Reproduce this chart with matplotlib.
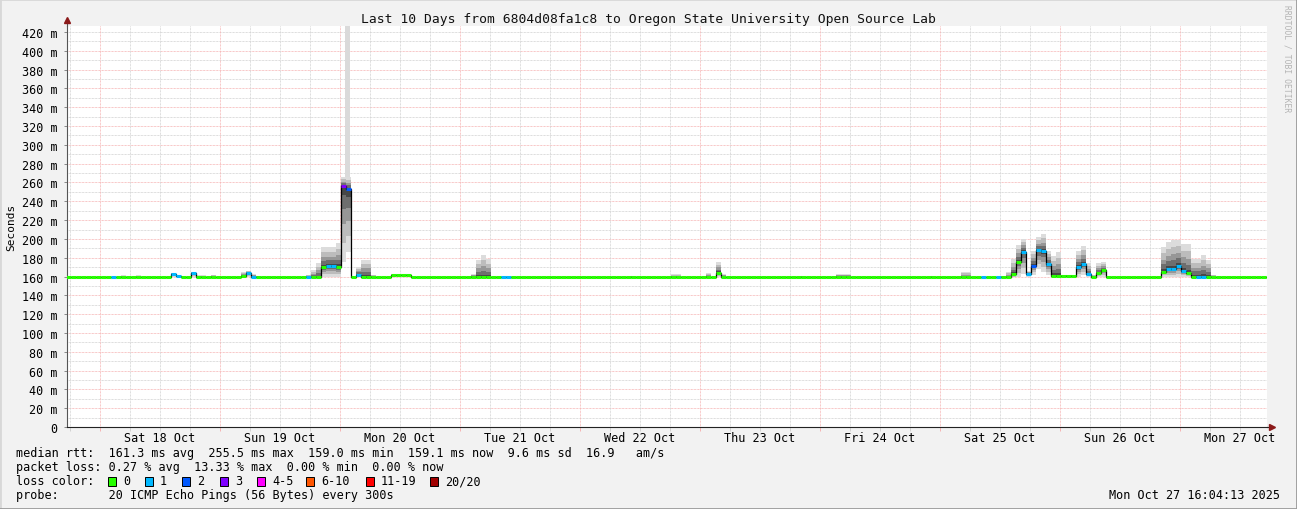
import numpy as np
import matplotlib
matplotlib.use("Agg")
import matplotlib.pyplot as plt
from matplotlib.patches import Rectangle
from matplotlib.lines import Line2D
from matplotlib.transforms import blended_transform_factory

plt.rcParams['font.family'] = ['DejaVu Sans Mono']

W, H = 1297, 510

# ---- data (hours are hourly bins counted from Sat 18 Oct 00:12) ----
baseline_rtt = 159.2
day_labels = ['Sat 18 Oct', 'Sun 19 Oct', 'Mon 20 Oct', 'Tue 21 Oct', 'Wed 22 Oct',
              'Thu 23 Oct', 'Fri 24 Oct', 'Sat 25 Oct', 'Sun 26 Oct', 'Mon 27 Oct']

ev_hour = [2, 4, 7, 14, 15, 18, 19, 20, 22, 28, 29, 30, 31,
           41, 42, 43, 44, 45, 46, 47, 48, 49, 51, 52, 53, 54, 58, 59, 60, 61,
           74, 75, 76, 77, 80, 81, 106, 114, 115, 121, 123, 124, 140, 147, 148, 149,
           166, 172, 173,
           176, 179, 180, 181, 182, 183, 184, 185, 186, 187, 188, 189, 190, 191, 192, 193, 194,
           195, 196, 197, 198, 199, 200, 201,
           212, 213, 214, 215, 216, 217, 218, 219, 220, 221, 222]
ev_median = [159.2, 159.2, 159.2, 162.7, 160.5, 163.7, 159.2, 159.2, 159.2, 160.5, 163.7, 159.4, 159.2,
             159.2, 159.2, 159.2, 170.0, 171.5, 171.5, 170.0, 256.0, 253.0, 162.0, 159.2, 159.2, 159.2,
             161.6, 161.6, 161.6, 161.6,
             159.2, 159.2, 159.2, 159.2, 159.2, 159.2, 159.2, 159.2, 159.2, 159.8, 164.0, 159.2,
             159.2, 159.2, 159.2, 159.2,
             159.2, 159.2, 159.2,
             159.2, 159.2, 159.4, 159.2, 162.7, 175.8, 186.4, 162.7, 171.5, 188.0, 186.8, 173.0,
             161.0, 161.0, 161.0, 161.0, 161.0,
             169.8, 173.0, 162.7, 160.0, 163.7, 167.0, 159.8,
             165.0, 168.0, 168.0, 171.5, 166.0, 163.4, 159.8, 159.8, 159.8, 159.4, 159.2]
ev_loss = [1, 0, 0, 1, 1, 1, 0, 0, 0, 0, 1, 1, 0,
           1, 0, 0, 0, 1, 1, 0, 3, 2, 1, 0, 0, 0, 0, 0, 0, 0,
           0, 0, 0, 0, 1, 1, 0, 0, 0, 0, 0, 0, 0, 0, 0, 0,
           0, 0, 0,
           1, 1, 0, 0, 0, 0, 1, 1, 2, 1, 1, 1, 0, 0, 0, 0, 0,
           1, 1, 1, 0, 0, 0, 0,
           0, 1, 1, 1, 1, 0, 0, 1, 1, 0, 0]
ev_low = [159.0, 159.0, 159.0, 160.0, 159.0, 160.0, 159.0, 159.0, 159.0, 159.0, 160.0, 159.0, 159.0,
          159.0, 159.0, 159.0, 160.0, 160.0, 160.0, 160.0, 175.0, 186.0, 159.0, 159.0, 159.0, 159.0,
          161.0, 161.0, 161.0, 161.0,
          159.0, 159.0, 159.0, 159.0, 159.0, 159.0, 159.0, 159.0, 159.0, 159.0, 159.0, 159.0,
          159.0, 159.0, 159.0, 159.0,
          159.0, 159.0, 159.0,
          159.0, 159.0, 159.0, 159.0, 159.0, 160.0, 163.0, 160.0, 162.0, 168.0, 165.0, 162.0,
          160.0, 160.0, 160.0, 160.0, 160.0,
          160.0, 162.0, 160.0, 159.0, 160.0, 160.0, 159.0,
          160.0, 160.0, 160.0, 160.0, 160.0, 160.0, 159.0, 159.0, 159.0, 159.0, 159.0]
ev_high = [160.0, 161.5, 161.5, 164.0, 161.0, 165.0, 161.5, 161.5, 162.0, 165.0, 166.0, 163.0, 161.0,
           162.0, 167.0, 174.0, 191.0, 191.0, 191.0, 196.0, 266.0, 266.0, 170.0, 178.0, 178.0, 162.0,
           162.5, 162.5, 162.5, 162.5,
           163.0, 178.0, 183.0, 178.6, 160.6, 160.6, 161.0, 162.7, 162.7, 163.7, 175.4, 163.0,
           161.0, 163.0, 163.0, 163.0,
           161.0, 165.0, 165.0,
           160.0, 160.0, 161.0, 165.0, 178.6, 193.8, 200.0, 166.0, 187.5, 202.0, 205.0, 187.5,
           182.0, 186.0, 161.5, 161.5, 161.5,
           187.0, 192.8, 174.0, 162.0, 174.0, 175.0, 161.0,
           191.0, 196.7, 199.0, 199.0, 194.6, 194.6, 178.6, 178.6, 183.0, 178.0, 162.0]

# single very slow ping that shoots off the top
outlier_hour = [49]
outlier_low = [186.0]
outlier_high = [440.0]

loss_names = ['0', '1', '2', '3', '4-5', '6-10', '11-19', '20/20']
loss_colors = ['#26ff00', '#00b8ff', '#0059ff', '#7e00ff', '#ff00ff', '#ff5500', '#ff0000', '#a10000']

# ---- build the hourly series ----
bin_off = 0.2
bins = np.arange(-7, 234)
median = np.full(len(bins), baseline_rtt)
loss = np.zeros(len(bins), dtype=int)
for k, m, l in zip(ev_hour, ev_median, ev_loss):
    median[k + 7] = m
    loss[k + 7] = l
edges = np.append(bins, bins[-1] + 1) + bin_off

fig = plt.figure(figsize=(W / 100, H / 100), dpi=100, facecolor='#f2f2f2')
ax = fig.add_axes([67 / W, 82 / H, 1200 / W, 401 / H])
ax.set_facecolor('white')
ax.set_xlim(-6.6, 233.4)
ax.set_ylim(0, 426.4)

# grid
dot = (0, (0.72, 0.72))
red_grid, grey_grid = '#f6b4b4', '#d2d2d2'
for v in range(10, 427, 10):
    c = red_grid if (v % 20 == 0 and v <= 400) else grey_grid
    ax.axhline(v, color=c, lw=0.72, ls=dot, zorder=0)
for h in range(-6, 234, 6):
    c = red_grid if h % 24 == 0 else grey_grid
    ax.axvline(h, color=c, lw=0.72, ls=dot, zorder=0)

# smoke
ax.bar(outlier_hour, np.subtract(outlier_high, outlier_low), bottom=outlier_low,
       width=1, align='edge', color='#dadada', lw=0, zorder=1)
ev_x = np.array(ev_hour) + bin_off
med_e = np.array(ev_median)
lo_e = np.array(ev_low)
hi_e = np.array(ev_high)
shades = [(1.0, '#dcdcdc'), (0.75, '#bcbcbc'), (0.5, '#979797'), (0.3, '#6e6e6e'), (0.12, '#474747')]
for f, c in shades:
    bot = med_e - f * (med_e - lo_e)
    top = med_e + f * (hi_e - med_e)
    ax.bar(ev_x, top - bot, bottom=bot, width=1, align='edge', color=c, lw=0, zorder=2)

# median line
ax.stairs(median, edges, baseline=None, color='black', lw=0.9, zorder=3)
ax.hlines(median, edges[:-1], edges[1:], colors=[loss_colors[l] for l in loss],
          lw=2.2, zorder=4, capstyle='butt')

# axes styling
for s in ['top', 'right']:
    ax.spines[s].set_visible(False)
ax.spines['left'].set_color('#555555')
ax.spines['bottom'].set_color('#222222')
yt = list(range(0, 421, 20))
ax.set_yticks(yt)
ax.set_yticklabels([f'{v} m' if v else '0' for v in yt], fontsize=8.5)
ax.tick_params(axis='y', length=2.5, width=0.7, color='#888888', pad=4.5)
ax.set_xticks(range(0, 234, 24))
ax.set_xticklabels([])
ax.set_xticks([h for h in range(-6, 234, 6) if h % 24], minor=True)
ax.tick_params(axis='x', which='major', length=3, width=0.7, color=red_grid)
ax.tick_params(axis='x', which='minor', length=3, width=0.7, color=grey_grid)

tr = blended_transform_factory(ax.transData, ax.transAxes)
for i, lab in enumerate(day_labels):
    ax.annotate(lab, (12 + 24 * i, 0), xycoords=tr, xytext=(0, -3), textcoords='offset points',
                ha='center', va='top', fontsize=8.5)

# axis arrows
ax.add_line(Line2D([0, 0], [1, 1.012], transform=ax.transAxes, color='#555555', lw=0.8, clip_on=False))
ax.add_line(Line2D([1, 1.004], [0, 0], transform=ax.transAxes, color='#222222', lw=0.8, clip_on=False))
ax.plot([0], [1.014], marker='^', color='#8b1a1a', markersize=4.5, transform=ax.transAxes, clip_on=False)
ax.plot([1.004], [0], marker='>', color='#8b1a1a', markersize=4.5, transform=ax.transAxes, clip_on=False)

def ftext(x, y, s, **kw):
    fig.text(x / W, 1 - y / H, s, **kw)

ftext(648, 19, 'Last 10 Days from 6804d08fa1c8 to Oregon State University Open Source Lab',
      ha='center', va='center', fontsize=9.4, color='#111111')
ftext(11, 227, 'Seconds', rotation=90, ha='center', va='center', fontsize=8)
ftext(1287, 5, 'RRDTOOL / TOBI OETIKER', rotation=-90, ha='center', va='top', fontsize=5.8, color='#b4b4b4')

ftext(16, 454, 'median rtt:  161.3 ms avg  255.5 ms max  159.0 ms min  159.1 ms now  9.6 ms sd  16.9   am/s',
      va='center', fontsize=8.5)
ftext(16, 468, 'packet loss: 0.27 % avg  13.33 % max  0.00 % min  0.00 % now', va='center', fontsize=8.5)
ftext(16, 482, 'loss color:', va='center', fontsize=8.5)
ftext(16, 496, 'probe:       20 ICMP Echo Pings (56 Bytes) every 300s', va='center', fontsize=8.5)
ftext(1280, 496, 'Mon Oct 27 16:04:13 2025', ha='right', va='center', fontsize=8.5)

box_x = [108, 145, 182, 220, 257, 306, 366, 430]
for bx, name, col in zip(box_x, loss_names, loss_colors):
    fig.add_artist(Rectangle((bx / W, 1 - 487 / H), 8 / W, 9 / H, transform=fig.transFigure,
                             facecolor=col, edgecolor='black', lw=0.7))
    ftext(bx + 15, 482, name, va='center', fontsize=8.5)

# outer frame
fig.add_artist(Line2D([0, 0, 1], [0, 1, 1], transform=fig.transFigure, color='#d8d8d8', lw=2))
fig.add_artist(Line2D([0, 1, 1], [0, 0, 1], transform=fig.transFigure, color='#9a9a9a', lw=2))

fig.savefig('out.png', dpi=100, facecolor=fig.get_facecolor())
